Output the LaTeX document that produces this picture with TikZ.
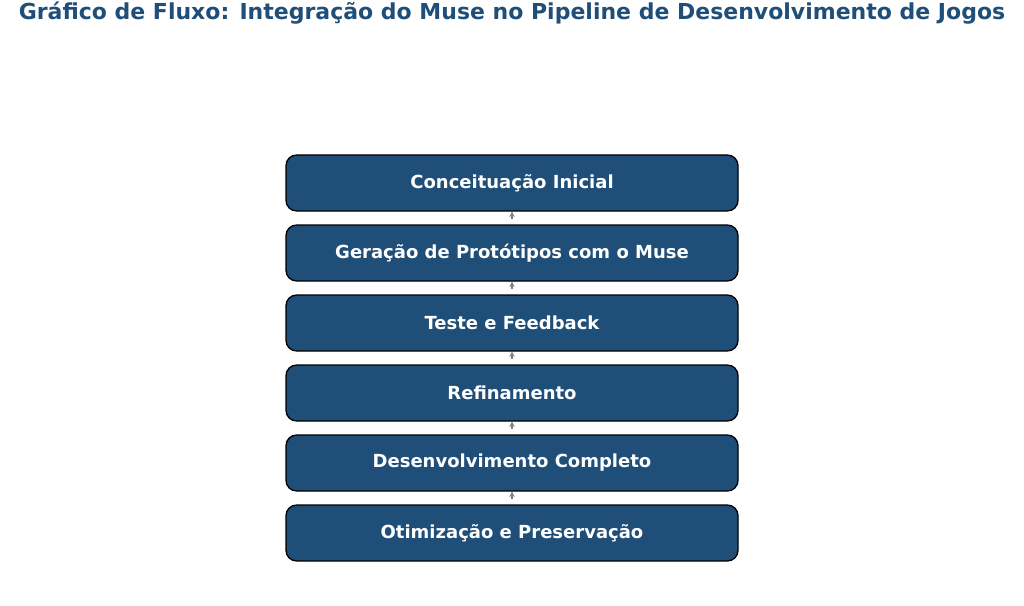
\documentclass[tikz,border=0pt]{standalone}
\usepackage{fontspec}
\setmainfont{DejaVu Sans}
\usetikzlibrary{arrows.meta}
\definecolor{boxblue}{HTML}{1F4E79}
\tikzset{
  stage/.style={draw=black, line width=1pt, fill=boxblue, rounded corners=8pt,
    minimum width=452*0.75pt, minimum height=56*0.75pt, inner sep=0pt,
    text=white, font=\bfseries\fontsize{13.5}{16}\selectfont},
  flow/.style={draw=gray, line width=1.5pt, -{Stealth[length=4pt,width=4pt]}}
}
\begin{document}
\begin{tikzpicture}[x=0.75pt,y=-0.75pt]
\useasboundingbox (0,0) rectangle (1024,606);
\node[text=boxblue, font=\bfseries\fontsize{16.5}{20}\selectfont] (title) at (512,13) {Gráfico de Fluxo: Integração do Muse no Pipeline de Desenvolvimento de Jogos};
\node[stage] (s1) at (512,183) {Conceituação Inicial};
\node[stage] (s2) at (512,253) {Geração de Protótipos com o Muse};
\node[stage] (s3) at (512,323) {Teste e Feedback};
\node[stage] (s4) at (512,393) {Refinamento};
\node[stage] (s5) at (512,463) {Desenvolvimento Completo};
\node[stage] (s6) at (512,533) {Otimização e Preservação};
\foreach \a/\b in {s2/s1,s3/s2,s4/s3,s5/s4,s6/s5}
  \draw[flow] ([yshift=4pt]\a.north) -- (\b.south);
\end{tikzpicture}
\end{document}
